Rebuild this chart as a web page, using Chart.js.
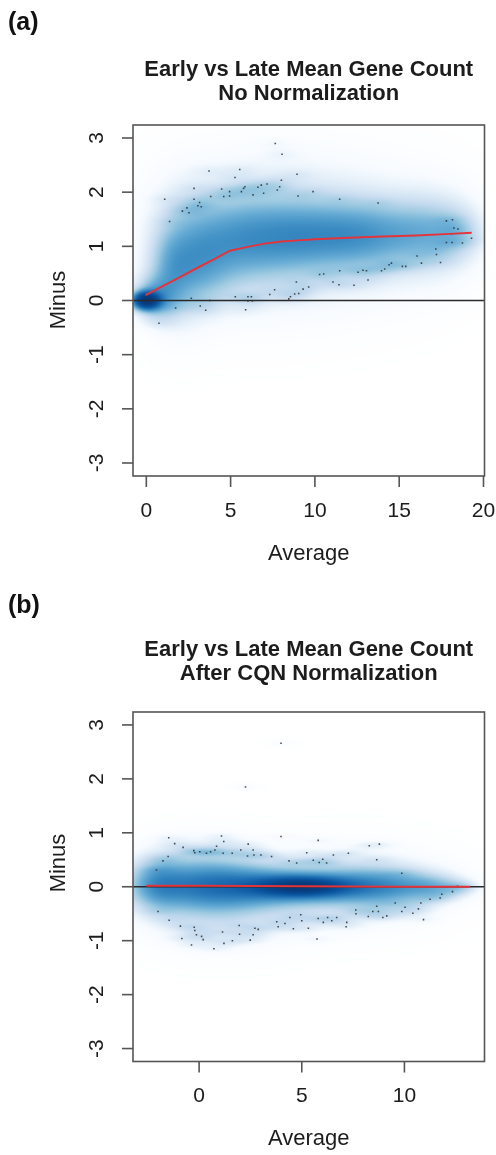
<!DOCTYPE html>
<html><head><meta charset="utf-8">
<script src="https://cdn.jsdelivr.net/npm/chart.js@4.4.0/dist/chart.umd.min.js"></script>
<style>
html,body{margin:0;padding:0;background:#fff;}
body{width:496px;height:1155px;position:relative;overflow:hidden;}
canvas{position:absolute;left:0;}
#c1{top:0;} #c2{top:578px;}
</style></head><body>
<canvas id="c1" width="496" height="578"></canvas>
<canvas id="c2" width="496" height="577"></canvas>
<script>
// ---------- text ----------
const panelLabels = ['(a)', '(b)'];
const titleA = ['Early vs Late Mean Gene Count', 'No Normalization'];
const titleB = ['Early vs Late Mean Gene Count', 'After CQN Normalization'];
const xAxisTitle = 'Average';
const yAxisTitle = 'Minus';

// ---------- ticks ----------
const xTicksA = [0, 5, 10, 15, 20];
const xTicksB = [0, 5, 10];
const yTicks = [-3, -2, -1, 0, 1, 2, 3];

// ---------- panel (a): loess fit ----------
const loessAX = [-0.05, 1, 2, 3, 4, 4.95, 6, 7, 8, 9, 10, 12, 14, 16, 18, 19.3];
const loessAY = [0.10, 0.27, 0.43, 0.60, 0.76, 0.92, 0.99, 1.05, 1.09, 1.11, 1.13, 1.16, 1.18, 1.20, 1.23, 1.25];

// ---------- panel (a): outlying points ----------
const pointsAX = [1.09,1.38,0.75,1.74,2.14,2.41,2.53,2.83,2.83,3.06,3.16,3.26,3.72,3.82,4.47,4.59,4.94,4.94,5.26,5.54,
  5.64,5.77,5.85,6.33,6.62,6.82,6.96,7.16,7.65,7.77,7.91,8.01,8.05,8.94,9.0,9.89,11.47,13.75,17.8,18.16,
  18.24,18.49,18.1,17.8,18.14,18.75,19.29,17.17,17.21,17.45,16.06,16.32,15.39,15.19,14.54,14.4,14.14,13.95,13.15,13.06,
  12.85,12.56,12.32,11.47,11.43,11.07,10.52,10.28,9.63,9.3,9.04,8.9,8.8,8.55,8.45,7.61,7.32,6.23,6.03,6.03,
  6.29,5.89,5.28,3.52,3.2,2.67,3.76];
const pointsAY = [1.87,1.46,-0.42,-0.14,1.65,1.71,1.62,2.07,1.87,1.75,1.81,1.73,2.39,1.92,2.06,1.92,2.01,1.93,2.27,2.42,
  2.01,2.07,2.1,1.95,2.09,2.13,1.98,2.15,2.9,2.04,2.1,2.22,2.7,2.33,1.93,2.01,1.87,1.8,1.47,1.49,
  1.34,1.32,1.23,1.07,1.07,1.06,1.15,0.95,0.85,0.7,0.82,0.69,0.63,0.63,0.69,0.66,0.58,0.55,0.38,0.55,
  0.56,0.52,0.28,0.55,0.29,0.34,0.49,0.48,0.25,0.21,0.13,0.34,0.12,0.07,0.03,0.2,0.11,0.07,0.07,-0.01,
  -0.01,-0.17,0.07,-0.18,-0.1,0.04,0.0];

// ---------- panel (a): smoothed density (blob centres, spreads, weights) ----------
const densAX  = [0.0, 0.5, 1.5, 3.0, 5.0, 7.5, 10.5, 13.5, 16.5, 18.5, 2.0, 6.0, 12.0, 17.5, 3.0, 8.0];
const densAY  = [0.0, 0.05, 0.55, 0.9, 1.1, 1.15, 1.2, 1.2, 1.25, 1.25, 0.8, 1.15, 1.2, 1.25, 0.4, 1.35];
const densASX = [0.5, 0.8, 0.8, 1.2, 1.5, 1.8, 2.0, 1.8, 1.5, 1.0, 1.5, 3.0, 4.0, 1.8, 1.5, 5.5];
const densASY = [0.1, 0.25, 0.5, 0.5, 0.5, 0.45, 0.4, 0.4, 0.38, 0.32, 0.9, 0.9, 0.85, 0.65, 0.4, 1.1];
const densAW  = [3.0, 0.7, 0.4, 0.4, 0.45, 0.5, 0.6, 0.53, 0.4, 0.25, 0.25, 0.22, 0.22, 0.15, 0.2, 0.1];

// ---------- panel (b): loess fit ----------
const loessBX = [-2.57, 0, 2.5, 5, 7.5, 10, 13.2];
const loessBY = [0.02, 0.02, 0.015, 0.01, 0.005, 0.0, 0.0];

// ---------- panel (b): outlying points ----------
const pointsBX = [3.99,2.26,3.99,-1.48,-1.19,-0.78,1.09,1.2,0.85,0.77,-0.26,-0.21,0.03,0.36,0.56,1.17,1.61,2.03,2.39,2.63,
  2.36,2.67,3.01,3.53,-1.51,-1.76,-2.08,4.38,4.75,5.24,5.56,5.8,5.85,6.02,6.21,6.54,7.27,8.29,8.78,8.65,
  9.87,-2.0,-1.46,-0.91,-0.24,-0.21,-0.84,-0.37,0.12,0.2,0.72,1.14,1.21,1.62,1.95,1.97,2.49,2.72,2.88,3.78,
  3.85,4.18,4.42,4.59,4.95,5.0,5.32,5.74,5.8,6.05,6.26,6.46,6.7,7.19,7.16,7.63,7.64,8.24,8.46,8.65,
  8.73,8.95,9.14,9.55,9.87,10.03,10.41,10.68,10.8,10.93,11.25,11.74,11.82,12.34,12.59,2.63,-0.13];
const pointsBY = [2.66,1.85,0.93,0.91,0.8,0.73,0.94,0.84,0.75,0.68,0.67,0.63,0.65,0.62,0.65,0.62,0.62,0.68,0.79,0.68,
  0.57,0.59,0.59,0.56,0.56,0.48,0.31,0.48,0.44,0.63,0.49,0.86,0.45,0.51,0.44,0.59,0.62,0.76,0.79,0.5,
  0.25,-0.46,-0.62,-0.73,-0.75,-0.81,-0.96,-1.08,-0.92,-0.98,-1.15,-0.84,-1.05,-1.0,-0.72,-0.88,-0.99,-0.77,-0.79,-0.65,
  -0.74,-0.68,-0.57,-0.78,-0.52,-0.63,-0.77,-0.97,-0.59,-0.66,-0.57,-0.63,-0.57,-0.66,-0.74,-0.43,-0.5,-0.55,-0.46,-0.36,
  -0.46,-0.57,-0.54,-0.3,-0.46,-0.38,-0.49,-0.41,-0.3,-0.61,-0.23,-0.21,-0.14,-0.09,0.01,-0.89,-0.89];

// ---------- panel (b): smoothed density ----------
const densBX  = [5.0, 4.0, 0.0, -2.0, 9.0, 11.5, 12.8, 1.0, 0.0, 7.5];
const densBY  = [0.0, 0.0, 0.02, 0.05, 0.0, 0.0, 0.0, -0.35, 0.4, 0.0];
const densBSX = [1.4, 3.0, 2.2, 0.8, 1.8, 1.0, 0.5, 2.5, 2.0, 3.0];
const densBSY = [0.11, 0.22, 0.32, 0.3, 0.22, 0.14, 0.08, 0.5, 0.4, 0.5];
const densBW  = [2.2, 1.0, 0.7, 0.5, 0.7, 0.4, 0.2, 0.35, 0.2, 0.3];

// ---------- drawing helpers ----------
const FONT = "'Liberation Sans', Arial, Helvetica, sans-serif";
const BLUES = ['#FFFFFF','#F7FBFF','#DEEBF7','#C6DBEF','#9ECAE1','#6BAED6','#4292C6','#2171B5','#08519C','#08306B'];
const RAMP = BLUES.map(c => [parseInt(c.slice(1,3),16), parseInt(c.slice(3,5),16), parseInt(c.slice(5,7),16)]);

const rPlot = {
  id: 'rPlot',
  beforeDatasetsDraw(chart, args, o) {
    const ctx = chart.ctx, ca = chart.chartArea, xs = chart.scales.x, ys = chart.scales.y;
    const L = Math.round(ca.left), T = Math.round(ca.top);
    const W = Math.round(ca.right) - L, H = Math.round(ca.bottom) - T;
    const xv = new Float64Array(W), yv = new Float64Array(H);
    for (let i = 0; i < W; i++) xv[i] = xs.getValueForPixel(L + i + 0.5);
    for (let j = 0; j < H; j++) yv[j] = ys.getValueForPixel(T + j + 0.5);
    const S = new Float64Array(W * H);
    const gx = new Float64Array(W);
    function add(bx, by, sx, sy, w) {
      for (let i = 0; i < W; i++) { const d = (xv[i] - bx) / sx; gx[i] = d * d > 30 ? 0 : Math.exp(-0.5 * d * d); }
      for (let j = 0; j < H; j++) {
        const d = (yv[j] - by) / sy; if (d * d > 30) continue;
        const g = w * Math.exp(-0.5 * d * d), row = j * W;
        for (let i = 0; i < W; i++) if (gx[i]) S[row + i] += g * gx[i];
      }
    }
    const d = o.density;
    for (let k = 0; k < d.x.length; k++) add(d.x[k], d.y[k], d.sx[k], d.sy[k], d.w[k]);
    const p = o.smear;
    for (let k = 0; k < p.x.length; k++) add(p.x[k], p.y[k], p.sx, p.sy, p.w);
    const img = ctx.createImageData(W, H);
    for (let n = 0; n < W * H; n++) {
      const t = 1 - Math.exp(-S[n]);
      const f = t * 9; let a = Math.floor(f); if (a > 8) a = 8; const r = f - a;
      const c0 = RAMP[a], c1 = RAMP[a + 1];
      img.data[4*n]   = c0[0] + (c1[0] - c0[0]) * r;
      img.data[4*n+1] = c0[1] + (c1[1] - c0[1]) * r;
      img.data[4*n+2] = c0[2] + (c1[2] - c0[2]) * r;
      img.data[4*n+3] = 255;
    }
    ctx.putImageData(img, L, T);
    // reference line at zero
    const y0 = ys.getPixelForValue(0);
    ctx.save();
    ctx.strokeStyle = '#2a2a2a'; ctx.lineWidth = 1.6;
    ctx.beginPath(); ctx.moveTo(ca.left, y0); ctx.lineTo(ca.right, y0); ctx.stroke();
    ctx.restore();
  },
  afterDraw(chart, args, o) {
    const ctx = chart.ctx, ca = chart.chartArea, xs = chart.scales.x, ys = chart.scales.y;
    ctx.save();
    // frame
    ctx.strokeStyle = '#555'; ctx.lineWidth = 1.6;
    ctx.strokeRect(ca.left, ca.top, ca.right - ca.left, ca.bottom - ca.top);
    ctx.fillStyle = '#1c1c1c';
    // x ticks
    ctx.font = '21px ' + FONT; ctx.textAlign = 'center'; ctx.textBaseline = 'alphabetic';
    o.xTicks.forEach(v => {
      const px = xs.getPixelForValue(v);
      ctx.beginPath(); ctx.moveTo(px, ca.bottom); ctx.lineTo(px, ca.bottom + 11); ctx.stroke();
      ctx.fillText(String(v), px, ca.bottom + 40.5);
    });
    // y ticks
    o.yTicks.forEach(v => {
      const py = ys.getPixelForValue(v);
      ctx.beginPath(); ctx.moveTo(ca.left - 11, py); ctx.lineTo(ca.left, py); ctx.stroke();
      ctx.save(); ctx.translate(103, py); ctx.rotate(-Math.PI / 2);
      ctx.fillText(String(v), 0, 0); ctx.restore();
    });
    // axis titles
    ctx.font = '22px ' + FONT;
    ctx.fillText(o.xTitle, (ca.left + ca.right) / 2, ca.bottom + 83.5);
    ctx.save(); ctx.translate(65, o.yTitleY); ctx.rotate(-Math.PI / 2);
    ctx.fillText(o.yTitle, 0, 0); ctx.restore();
    // main title
    ctx.font = 'bold 22px ' + FONT;
    ctx.fillText(o.title[0], (ca.left + ca.right) / 2, o.titleY[0]);
    ctx.fillText(o.title[1], (ca.left + ca.right) / 2, o.titleY[1]);
    // panel label
    ctx.font = 'bold 25px ' + FONT; ctx.textAlign = 'left';
    ctx.fillStyle = '#111';
    ctx.fillText(o.panel, 8, o.panelY);
    ctx.restore();
  }
};

function makeChart(id, cfg) {
  const lineData = cfg.lx.map((x, i) => ({ x: x, y: cfg.ly[i] }));
  const ptData = cfg.px.map((x, i) => ({ x: x, y: cfg.py[i] }));
  return new Chart(document.getElementById(id), {
    type: 'scatter',
    data: {
      datasets: [
        { data: ptData, pointRadius: 1.1, pointStyle: 'rect', pointBackgroundColor: 'rgba(45,45,45,0.85)',
          pointBorderWidth: 0, showLine: false, order: 2 },
        { data: lineData, showLine: true, borderColor: '#E3343C', borderWidth: 2, pointRadius: 0,
          tension: 0, fill: false, order: 1 }
      ]
    },
    options: {
      responsive: false, animation: false, devicePixelRatio: 1, events: [],
      layout: { padding: cfg.pad },
      scales: {
        x: { type: 'linear', display: false, min: cfg.xmin, max: cfg.xmax },
        y: { type: 'linear', display: false, min: -3.24, max: 3.24 }
      },
      plugins: {
        legend: { display: false }, tooltip: { enabled: false }, title: { display: false },
        rPlot: cfg.rp
      }
    },
    plugins: [rPlot]
  });
}

makeChart('c1', {
  lx: loessAX, ly: loessAY, px: pointsAX, py: pointsAY,
  xmin: -0.79, xmax: 20.06,
  pad: { left: 133, right: 11.5, top: 125, bottom: 102 },
  rp: {
    density: { x: densAX, y: densAY, sx: densASX, sy: densASY, w: densAW },
    smear: { x: pointsAX, y: pointsAY, sx: 0.7, sy: 0.07, w: 0.06 },
    xTicks: xTicksA, yTicks: yTicks, xTitle: xAxisTitle, yTitle: yAxisTitle, yTitleY: 300,
    title: titleA, titleY: [76, 100], panel: panelLabels[0], panelY: 30
  }
});

makeChart('c2', {
  lx: loessBX, ly: loessBY, px: pointsBX, py: pointsBY,
  xmin: -3.22, xmax: 13.9,
  pad: { left: 133, right: 11.5, top: 134, bottom: 93.5 },
  rp: {
    density: { x: densBX, y: densBY, sx: densBSX, sy: densBSY, w: densBW },
    smear: { x: pointsBX, y: pointsBY, sx: 0.6, sy: 0.05, w: 0.08 },
    xTicks: xTicksB, yTicks: yTicks, xTitle: xAxisTitle, yTitle: yAxisTitle, yTitleY: 285,
    title: titleB, titleY: [78, 102], panel: panelLabels[1], panelY: 35
  }
});
</script>
</body></html>
